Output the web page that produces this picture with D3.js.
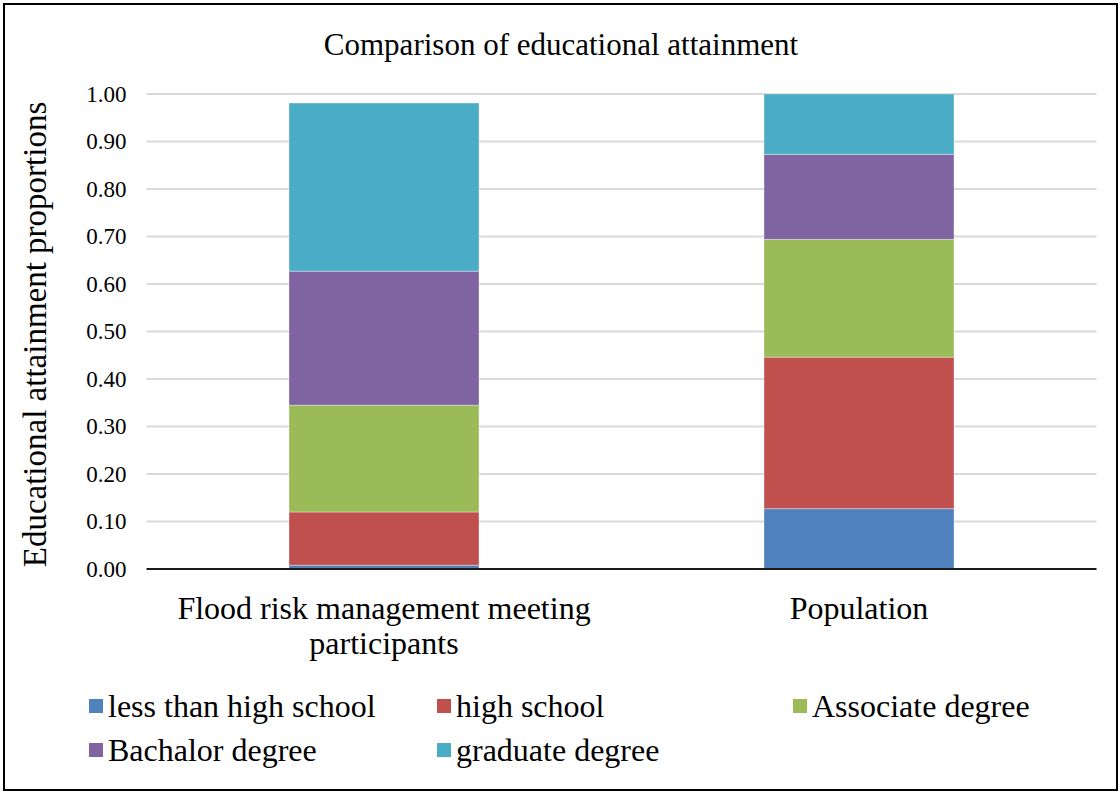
<!DOCTYPE html>
<html>
<head>
<meta charset="utf-8">
<script src="https://cdn.jsdelivr.net/npm/d3@7/dist/d3.min.js"></script>
<style>
  html, body { margin: 0; padding: 0; background: #fff; }
  svg { display: block; }
  text { font-family: "Liberation Serif", "Times New Roman", serif; fill: #000; }
</style>
</head>
<body>
<svg id="chart" width="1120" height="793"></svg>
<script>
// Groups along the x axis
const categories = ["Flood risk management meeting participants", "Population"];
const categoryLines = [["Flood risk management meeting", "participants"], ["Population"]];

// Education levels, bottom to top
const seriesNames = ["less than high school", "high school", "Associate degree", "Bachalor degree", "graduate degree"];
const seriesColors = ["#4F81BD", "#C0504D", "#9BBB59", "#8064A2", "#4BACC6"];

// Share of each level within a group
const lessThanHighSchool = [0.008, 0.127];
const highSchool         = [0.112, 0.319];
const associateDegree    = [0.225, 0.248];
const bachalorDegree     = [0.282, 0.179];
const graduateDegree     = [0.354, 0.127];

const yTicks = [0, 0.1, 0.2, 0.3, 0.4, 0.5, 0.6, 0.7, 0.8, 0.9, 1.0];

const svg = d3.select("#chart");
const W = 1120, H = 793;

// Outer frame
svg.append("rect")
  .attr("x", 4).attr("y", 4).attr("width", W - 7).attr("height", H - 7)
  .attr("fill", "none").attr("stroke", "#000").attr("stroke-width", 2);

const plot = { left: 146.5, right: 1096.5, top: 94, bottom: 569 };

const x = d3.scaleBand().domain(categories).range([plot.left, plot.right]).paddingInner(0.6).paddingOuter(0.3);
const y = d3.scaleLinear().domain([0, 1]).range([plot.bottom, plot.top]);

// Horizontal gridlines
svg.append("g").selectAll("line").data(yTicks.filter(d => d > 0)).join("line")
  .attr("x1", plot.left).attr("x2", plot.right)
  .attr("y1", d => y(d)).attr("y2", d => y(d))
  .attr("stroke", "#d9d9d9").attr("stroke-width", 2);

// Y axis tick labels
const yAxis = d3.axisLeft(y).tickValues(yTicks).tickFormat(d3.format(".2f")).tickSize(0).tickPadding(20);
const yAxisG = svg.append("g").attr("transform", `translate(${plot.left},0)`).call(yAxis);
yAxisG.select(".domain").remove();
yAxisG.selectAll("text")
  .attr("font-family", "Liberation Serif").attr("font-size", 23).attr("fill", "#000");

// Stack the series
const rows = categories.map((c, i) => ({
  cat: c,
  s0: lessThanHighSchool[i], s1: highSchool[i], s2: associateDegree[i], s3: bachalorDegree[i], s4: graduateDegree[i]
}));
const stack = d3.stack().keys(["s0", "s1", "s2", "s3", "s4"]);
const stacked = stack(rows);

svg.append("g").selectAll("g").data(stacked).join("g")
  .attr("fill", (d, i) => seriesColors[i])
  .selectAll("rect").data(d => d).join("rect")
  .attr("x", d => x(d.data.cat))
  .attr("width", x.bandwidth())
  .attr("y", d => y(d[1]))
  .attr("height", d => y(d[0]) - y(d[1]))
  .attr("stroke", "#ffffff").attr("stroke-opacity", 0.35).attr("stroke-width", 1);

// Baseline
svg.append("line")
  .attr("x1", plot.left).attr("x2", plot.right)
  .attr("y1", y(0)).attr("y2", y(0))
  .attr("stroke", "#1a1a1a").attr("stroke-width", 2);

// Category labels
categories.forEach((c, i) => {
  const cx = x(c) + x.bandwidth() / 2;
  const t = svg.append("text")
    .attr("x", cx).attr("y", 619)
    .attr("text-anchor", "middle").attr("font-size", 32);
  categoryLines[i].forEach((ln, j) => {
    t.append("tspan").attr("x", cx).attr("dy", j === 0 ? 0 : 35).text(ln);
  });
});

// Title
svg.append("text")
  .attr("x", 561).attr("y", 55).attr("text-anchor", "middle")
  .attr("font-size", 31).text("Comparison of educational attainment");

// Y axis title
svg.append("text")
  .attr("transform", `translate(46,${(plot.top + plot.bottom) / 2 + 3}) rotate(-90)`)
  .attr("text-anchor", "middle").attr("font-size", 33)
  .text("Educational attainment proportions");

// Legend
const legendPos = [
  { x: 89, y: 706 }, { x: 437, y: 706 }, { x: 793, y: 706 },
  { x: 89, y: 750 }, { x: 437, y: 750 }
];
const legend = svg.append("g").selectAll("g").data(seriesNames).join("g")
  .attr("transform", (d, i) => `translate(${legendPos[i].x},${legendPos[i].y})`);
legend.append("rect")
  .attr("x", 0).attr("y", -7).attr("width", 14).attr("height", 14)
  .attr("fill", (d, i) => seriesColors[i]);
legend.append("text")
  .attr("x", 19).attr("y", 11).attr("font-size", 32)
  .text(d => d);
</script>
</body>
</html>
